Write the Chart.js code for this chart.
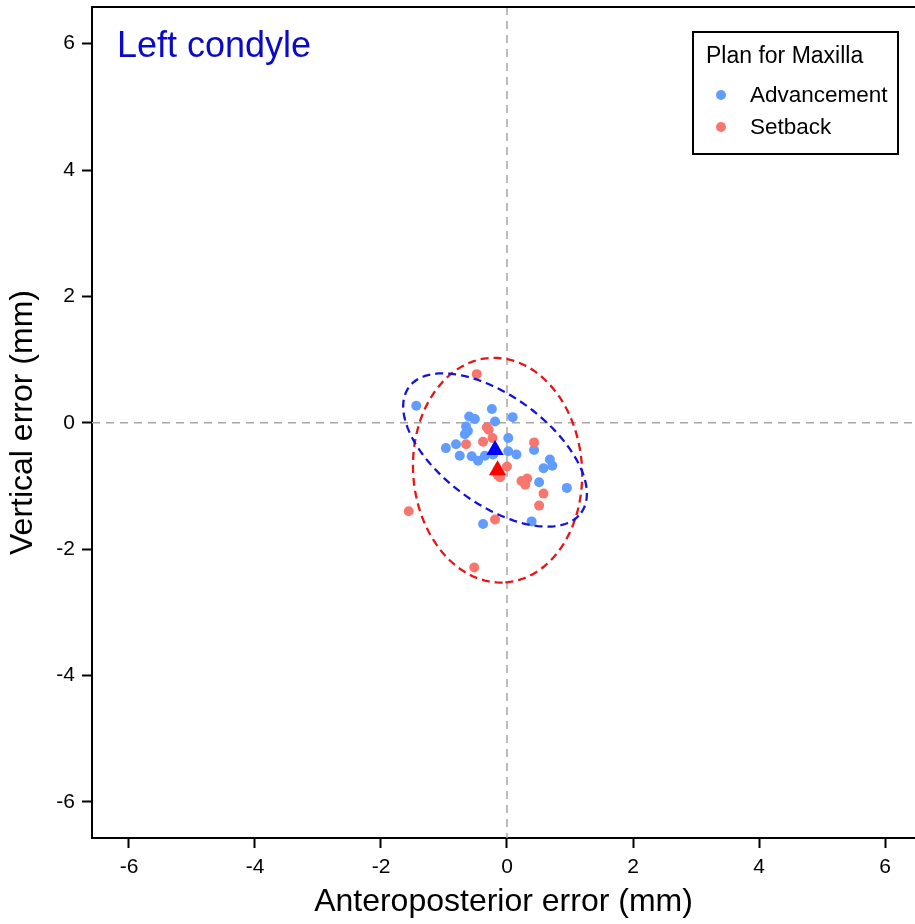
<!DOCTYPE html>
<html lang="en">
  <head>
    <meta charset="UTF-8" />
    <title>Left condyle</title>
    <script src="https://cdn.jsdelivr.net/npm/chart.js@4.4.1/dist/chart.umd.min.js"></script>
    <style>
      html,
      body {
        margin: 0;
        padding: 0;
        background: #fff;
        overflow: hidden;
      }
      canvas {
        display: block;
      }
    </style>
  </head>
  <body>
    <canvas id="chart" width="915" height="924"></canvas>

    <script>
      const panelTitle = "Left condyle";
      const legendTitle = "Plan for Maxilla";
      const groupNames = ["Advancement", "Setback"];
      const xTitle = "Anteroposterior error (mm)";
      const yTitle = "Vertical error (mm)";
      const xTicks = [-6, -4, -2, 0, 2, 4, 6];
      const yTicks = [-6, -4, -2, 0, 2, 4, 6];

      // individual errors, [anteroposterior, vertical]
      const advancementPoints = [
        [-1.44, 0.27], [-0.24, 0.22], [0.09, 0.09], [-0.6, 0.1], [-0.51, 0.06],
        [-0.19, 0.02], [-0.65, -0.06], [-0.62, -0.13], [-0.67, -0.18], [0.02, -0.24],
        [-0.97, -0.4], [-0.81, -0.34], [-0.75, -0.52], [-0.56, -0.53], [-0.46, -0.6],
        [-0.35, -0.52], [-0.22, -0.5], [0.02, -0.45], [0.15, -0.5], [0.43, -0.43],
        [0.68, -0.58], [0.72, -0.68], [0.58, -0.72], [0.51, -0.94], [0.95, -1.03],
        [0.39, -1.56], [-0.38, -1.6],
      ];
      const setbackPoints = [
        [-0.48, 0.77], [-0.32, -0.07], [-0.29, -0.11], [-0.23, -0.24], [-0.38, -0.3],
        [-0.65, -0.34], [0.43, -0.31], [0.0, -0.69], [-0.15, -0.82], [-0.11, -0.86],
        [0.23, -0.92], [0.32, -0.88], [0.29, -0.98], [0.58, -1.12], [0.51, -1.31],
        [-1.56, -1.4], [-0.19, -1.53], [-0.52, -2.29],
      ];
      const groupMeans = [
        [-0.19, -0.43],
        [-0.15, -0.75],
      ];
      // 95% ellipses: semi-major, semi-minor, angle (deg)
      const ellipseAxes = [
        [1.69, 0.86, -36],
        [1.78, 1.34, -86],
      ];

      const pointColors = ["#619CFF", "#F8766D"];
      const meanColors = ["#0000FF", "#FF0000"];
      const ellipseColors = ["#1414D8", "#E81414"];
      const font = "'Liberation Sans', Arial, sans-serif";

      const toXY = (arr) => arr.map(([x, y]) => ({ x, y }));

      const refLines = {
        id: "refLines",
        beforeDatasetsDraw(chart) {
          const { ctx, chartArea: a, scales } = chart;
          const x0 = scales.x.getPixelForValue(0);
          const y0 = scales.y.getPixelForValue(0);
          ctx.save();
          ctx.strokeStyle = "#a6a6a6";
          ctx.lineWidth = 1.5;
          ctx.setLineDash([8, 6]);
          ctx.beginPath();
          ctx.moveTo(x0, a.top);
          ctx.lineTo(x0, a.bottom);
          ctx.moveTo(a.left, y0);
          ctx.lineTo(a.right, y0);
          ctx.stroke();
          ctx.restore();
        },
      };

      const ellipses = {
        id: "ellipses",
        afterDatasetsDraw(chart) {
          const { ctx, scales } = chart;
          ctx.save();
          ctx.lineWidth = 2.3;
          ctx.setLineDash([8, 5]);
          [1, 0].forEach((g) => {
            const [cx, cy] = groupMeans[g];
            const [ra, rb, deg] = ellipseAxes[g];
            const th = (deg * Math.PI) / 180;
            ctx.strokeStyle = ellipseColors[g];
            ctx.beginPath();
            for (let i = 0; i <= 180; i++) {
              const t = (i / 180) * Math.PI * 2;
              const dx = ra * Math.cos(t) * Math.cos(th) - rb * Math.sin(t) * Math.sin(th);
              const dy = ra * Math.cos(t) * Math.sin(th) + rb * Math.sin(t) * Math.cos(th);
              const px = scales.x.getPixelForValue(cx + dx);
              const py = scales.y.getPixelForValue(cy + dy);
              if (i === 0) ctx.moveTo(px, py);
              else ctx.lineTo(px, py);
            }
            ctx.closePath();
            ctx.stroke();
          });
          ctx.restore();
        },
      };

      const frame = {
        id: "frame",
        afterDraw(chart) {
          const { ctx, chartArea: a } = chart;
          ctx.save();
          // top border
          ctx.strokeStyle = "#000";
          ctx.lineWidth = 2;
          ctx.beginPath();
          ctx.moveTo(a.left, a.top);
          ctx.lineTo(a.right, a.top);
          ctx.stroke();

          // panel title
          ctx.fillStyle = "#0A0AC8";
          ctx.font = `36px ${font}`;
          ctx.textBaseline = "alphabetic";
          ctx.textAlign = "left";
          ctx.fillText(panelTitle, 117, 57);

          // legend
          ctx.lineWidth = 2;
          ctx.strokeRect(693, 32, 205, 122);
          ctx.fillStyle = "#000";
          ctx.font = `23px ${font}`;
          ctx.fillText(legendTitle, 706, 63);
          ctx.font = `22.5px ${font}`;
          groupNames.forEach((name, i) => {
            const y = 95 + i * 32;
            ctx.fillStyle = pointColors[i];
            ctx.beginPath();
            ctx.arc(721, y, 5, 0, Math.PI * 2);
            ctx.fill();
            ctx.fillStyle = "#000";
            ctx.fillText(name, 750, y + 7);
          });
          ctx.restore();
        },
      };

      const tickFont = { family: font, size: 21 };
      const titleFont = { family: font, size: 32 };

      // fixed axis boxes, no label overhang padding
      const fixBox = (size) => (s) => {
        if (s.isHorizontal()) s.height = size;
        else s.width = size;
        s.paddingTop = 0;
        s.paddingBottom = 0;
        s.paddingLeft = 0;
        s.paddingRight = 0;
      };

      new Chart(document.getElementById("chart"), {
        type: "scatter",
        data: {
          datasets: [
            {
              label: groupNames[0] + " mean",
              data: toXY([groupMeans[0]]),
              pointStyle: "triangle",
              pointRadius: 10,
              pointHoverRadius: 10,
              pointBackgroundColor: meanColors[0],
              pointBorderWidth: 0,
              order: 0,
            },
            {
              label: groupNames[1] + " mean",
              data: toXY([groupMeans[1]]),
              pointStyle: "triangle",
              pointRadius: 10,
              pointHoverRadius: 10,
              pointBackgroundColor: meanColors[1],
              pointBorderWidth: 0,
              order: 0,
            },
            {
              label: groupNames[1],
              data: toXY(setbackPoints),
              pointRadius: 5,
              pointHoverRadius: 5,
              pointBackgroundColor: pointColors[1],
              pointBorderWidth: 0,
              order: 1,
            },
            {
              label: groupNames[0],
              data: toXY(advancementPoints),
              pointRadius: 5,
              pointHoverRadius: 5,
              pointBackgroundColor: pointColors[0],
              pointBorderWidth: 0,
              order: 2,
            },
          ],
        },
        options: {
          responsive: false,
          animation: false,
          devicePixelRatio: 1,
          layout: {
            autoPadding: false,
            padding: { top: 7, right: 0, bottom: 0, left: 0 },
          },
          plugins: {
            legend: { display: false },
            tooltip: { enabled: false },
          },
          scales: {
            x: {
              type: "linear",
              position: "bottom",
              min: -6.587,
              max: 6.476,
              afterBuildTicks: (s) => {
                s.ticks = xTicks.map((v) => ({ value: v }));
              },
              afterFit: fixBox(86),
              ticks: { font: tickFont, color: "#000", padding: 7 },
              grid: {
                drawOnChartArea: false,
                drawTicks: true,
                tickLength: 10,
                tickColor: "#000",
                tickWidth: 2,
              },
              border: { color: "#000", width: 2 },
              title: {
                display: true,
                text: xTitle,
                font: titleFont,
                color: "#000",
                padding: { top: 0, bottom: 3 },
              },
            },
            y: {
              type: "linear",
              min: -6.57,
              max: 6.58,
              afterBuildTicks: (s) => {
                s.ticks = yTicks.map((v) => ({ value: v }));
              },
              afterFit: fixBox(92),
              ticks: { font: tickFont, color: "#000", padding: 7 },
              grid: {
                drawOnChartArea: false,
                drawTicks: true,
                tickLength: 10,
                tickColor: "#000",
                tickWidth: 2,
              },
              border: { color: "#000", width: 2 },
              title: {
                display: true,
                text: yTitle,
                font: titleFont,
                color: "#000",
                padding: { top: 4, bottom: 0 },
              },
            },
          },
        },
        plugins: [refLines, ellipses, frame],
      });
    </script>
  </body>
</html>
